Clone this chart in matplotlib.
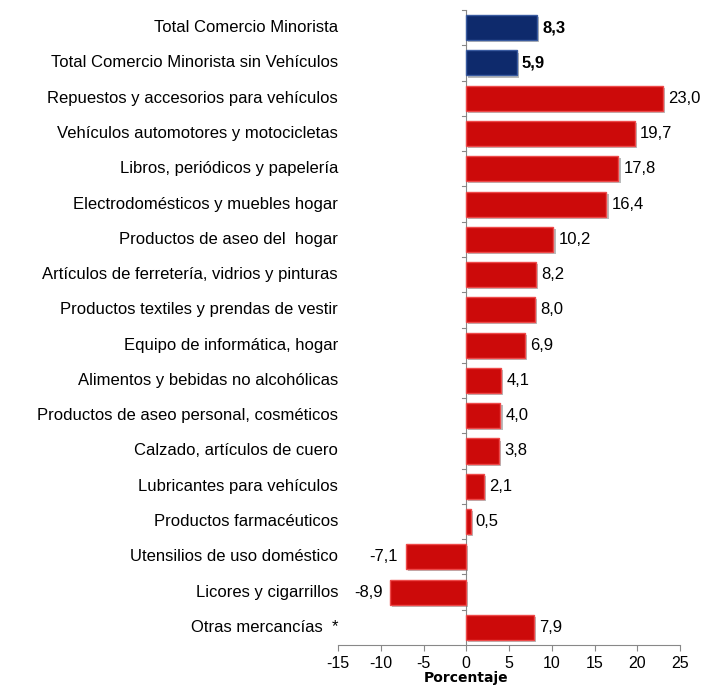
import matplotlib
matplotlib.use("Agg")
import matplotlib.pyplot as plt
import matplotlib.patheffects as pe
import numpy as np

categories = [
    "Total Comercio Minorista",
    "Total Comercio Minorista sin Vehículos",
    "Repuestos y accesorios para vehículos",
    "Vehículos automotores y motocicletas",
    "Libros, periódicos y papelería",
    "Electrodomésticos y muebles hogar",
    "Productos de aseo del  hogar",
    "Artículos de ferretería, vidrios y pinturas",
    "Productos textiles y prendas de vestir",
    "Equipo de informática, hogar",
    "Alimentos y bebidas no alcohólicas",
    "Productos de aseo personal, cosméticos",
    "Calzado, artículos de cuero",
    "Lubricantes para vehículos",
    "Productos farmacéuticos",
    "Utensilios de uso doméstico",
    "Licores y cigarrillos",
    "Otras mercancías  *",
]
values = [8.3, 5.9, 23.0, 19.7, 17.8, 16.4, 10.2, 8.2, 8.0, 6.9, 4.1, 4.0, 3.8, 2.1, 0.5, -7.1, -8.9, 7.9]
is_total = [True, True] + [False] * 16

plt.rcParams["font.family"] = ["Liberation Sans", "DejaVu Sans"]
plt.rcParams["axes.unicode_minus"] = False

fig = plt.figure(figsize=(7.02, 6.87), dpi=100)
ax = fig.add_axes([0.4815, 0.0611, 0.9687 - 0.4815, 0.9854 - 0.0611])

n = len(categories)
y = np.arange(n)
colors = ["#0E2A6C" if t else "#CC0A0A" for t in is_total]
edges = ["#3A5BA0" if t else "#EE4A4A" for t in is_total]

bars = ax.barh(y, values, height=0.71, color=colors, edgecolor=edges, linewidth=1.0, zorder=3)
for b in bars:
    b.set_path_effects([pe.SimplePatchShadow(offset=(1.5, -1.5), shadow_rgbFace="#777777", alpha=0.5), pe.Normal()])

for yi, v, t in zip(y, values, is_total):
    txt = f"{v:.1f}".replace(".", ",")
    if v >= 0:
        ax.text(v + 0.6, yi, txt, va="center", ha="left", fontsize=12,
                fontweight="bold" if t else "normal", color="black")
    else:
        ax.text(v - 0.9, yi, txt, va="center", ha="right", fontsize=12, color="black")

ax.set_xlim(-15, 25)
ax.set_ylim(n - 0.5, -0.5)
ax.set_xticks(np.arange(-15, 26, 5))
ax.tick_params(axis="x", labelsize=11.5, length=4, color="#888888", direction="out", pad=4)

# category boundary ticks on the zero line
ax.set_yticks([])
for b in np.arange(0.5, n - 0.5, 1.0):
    ax.plot([-0.45, 0], [b, b], color="#888888", lw=0.8, zorder=2, clip_on=False)

for side in ["top", "right", "left"]:
    ax.spines[side].set_visible(False)
ax.spines["bottom"].set_color("#888888")
ax.axvline(0, color="#888888", lw=0.8, zorder=2)
ax.plot([-0.45, 0], [-0.5, -0.5], color="#888888", lw=0.8, clip_on=False)

for yi, lab in zip(y, categories):
    ax.text(-15.0, yi, lab, ha="right", va="center", fontsize=12, color="black")

fig.text(466 / 702, 0.003, "Porcentaje", ha="center", va="bottom",
         fontsize=10, fontweight="bold", family=["DejaVu Sans"])

fig.savefig("out.png", dpi=100)
